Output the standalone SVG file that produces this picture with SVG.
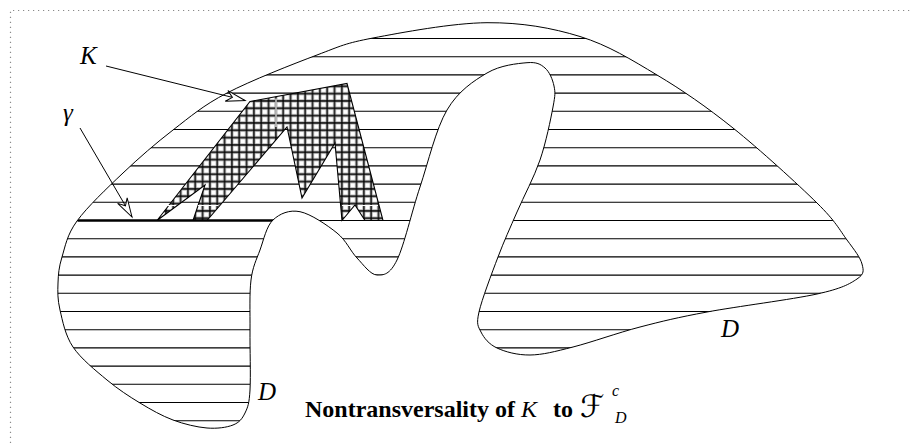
<svg xmlns="http://www.w3.org/2000/svg" width="910" height="443" viewBox="0 0 910 443">
<style>
.lbl{font-family:"Liberation Serif","Times New Roman",serif;font-style:italic;font-size:25px;fill:#000}
.cap{font-family:"Liberation Serif","Times New Roman",serif;font-weight:bold;font-size:24px;fill:#000}
.capm{font-family:"Liberation Serif","Times New Roman",serif;font-style:italic;font-size:24px;fill:#000}
.sm{font-family:"Liberation Serif","Times New Roman",serif;font-style:italic;font-size:16px;fill:#000}
.thin{fill:none;stroke:#000;stroke-width:1}
.hatch{fill:none;stroke:#000;stroke-width:1.1}
.seam{fill:none;stroke:#fff;stroke-width:1.2}
</style>
<defs>
<path id="outline" d="M487,22.7 C521.5,22.45 551.67,27.78 580,36.5 C608.33,45.22 631.5,59.75 657,75 C682.5,90.25 706.33,106.67 733,128 C759.67,149.33 798,184.33 817,203 C836,221.67 839.5,229.83 847,240 C854.5,250.17 860.33,257.5 862,264 C863.67,270.5 864.5,274 857,279 C849.5,284 842,288.5 817,294 C792,299.5 736.5,306.5 707,312 C677.5,317.5 662.33,321.17 640,327 C617.67,332.83 591.33,342.33 573,347 C554.67,351.67 542.67,354.83 530,355 C517.33,355.17 505.17,351.83 497,348 C488.83,344.17 484,338 481,332 C478,326 476.17,324.5 479,312 C481.83,299.5 491.67,273.67 498,257 C504.33,240.33 510,228.17 517,212 C524,195.83 534,177.5 540,160 C546,142.5 550.67,119.33 553,107 C555.33,94.67 555.33,92.5 554,86 C552.67,79.5 549.5,71.88 545,68 C540.5,64.12 536.67,61.87 527,62.7 C517.33,63.53 500.33,65.12 487,73 C473.67,80.88 458.17,91 447,110 C435.83,129 428.33,162 420,187 C411.67,212 404.17,245.33 397,260 C389.83,274.67 383.67,275.33 377,275 C370.33,274.67 363.67,265 357,258 C350.33,251 346.5,240.72 337,233 C327.5,225.28 310.67,213.87 300,211.7 C289.33,209.53 279.67,213.62 273,220 C266.33,226.38 263.67,240 260,250 C256.33,260 252.67,266.67 251,280 C249.33,293.33 250.17,311.67 250,330 C249.83,348.33 250.83,376.17 250,390 C249.17,403.83 247.83,407.17 245,413 C242.17,418.83 239.33,422.5 233,425 C226.67,427.5 217,428.83 207,428 C197,427.17 184.17,424.17 173,420 C161.83,415.83 151,409.67 140,403 C129,396.33 118.17,389.33 107,380 C95.83,370.67 80.83,358.67 73,347 C65.17,335.33 62.5,320.67 60,310 C57.5,299.33 57.67,291.83 58,283 C58.33,274.17 58.83,267.33 62,257 C65.17,246.67 66.83,235 77,221 C87.17,207 107,188.17 123,173 C139,157.83 155.67,143.33 173,130 C190.33,116.67 203,105.5 227,93 C251,80.5 292.67,64.17 317,55 C341.33,45.83 344.67,43.38 373,38 C401.33,32.62 452.5,22.95 487,22.7 Z"/>
<clipPath id="clipD"><use href="#outline"/></clipPath>
<pattern id="grid" patternUnits="userSpaceOnUse" x="1" y="2" width="7.33" height="7.33">
<rect width="7.33" height="7.33" fill="#fff"/>
<path d="M3.665,0V7.33M0,3.665H7.33" stroke="#b0b0b0" stroke-width="3"/>
<path d="M3.665,0V7.33M0,3.665H7.33" stroke="#000" stroke-width="1.3"/>
</pattern>
<marker id="ah" viewBox="-20 -8 22 16" refX="0" refY="0" markerWidth="22" markerHeight="16" markerUnits="userSpaceOnUse" orient="auto" overflow="visible">
<path d="M0,0 L-19,-5.5 L-13,0 L-19,5.5 Z" fill="#fff" stroke="#000" stroke-width="1"/>
</marker>
</defs>

<path d="M10.5,443 V10.5 H910" fill="none" stroke="#8a8a8a" stroke-width="1.2" stroke-dasharray="1.2 3.8"/>

<g id="region-D">
<g clip-path="url(#clipD)">
<path class="hatch" d="M40,38.5H880M40,56.7H880M40,74.9H880M40,93.1H880M40,111.3H880M40,129.5H880M40,147.7H880M40,165.9H880M40,184.1H880M40,202.3H880M40,220.5H880M40,238.7H880M40,256.9H880M40,275.1H880M40,293.3H880M40,311.5H880M40,329.7H880M40,347.9H880M40,366.1H880M40,384.3H880M40,402.5H880M40,420.7H880"/>
</g>
<use href="#outline" class="thin"/>
</g>

<g id="set-K">
<path d="M250,101.5 L347,83.5 L383,220.5 L365,220.5 L355,205 L342,220.5 L335,143 L302,198 L287,127 L207,220.5 L193,220.5 L205,185 L157,220.5 Z" fill="url(#grid)" stroke="#000" stroke-width="1.1" stroke-linejoin="miter"/>
<path class="seam" d="M276,98.5V127M164,205.5H176M198,205.5H218M342,205.5H352M358,205.5H378"/>
</g>

<g id="curve-gamma">
<path d="M77.5,220.5H274" clip-path="url(#clipD)" stroke="#000" stroke-width="2.6" fill="none"/>
</g>

<g id="connectors">
<path class="thin" d="M106,66 L245,100.5" marker-end="url(#ah)"/>
<path class="thin" d="M80,128 L132,217" marker-end="url(#ah)"/>
</g>

<g id="label-K"><text class="lbl" x="80" y="64">K</text></g>
<g id="label-gamma"><text class="lbl" x="63" y="121">γ</text></g>
<g id="label-D1"><text class="lbl" x="258" y="400">D</text></g>
<g id="label-D2"><text class="lbl" x="721" y="337">D</text></g>

<g id="caption">
<text class="cap" x="305" y="417">Nontransversality of</text>
<text class="capm" x="521" y="417">K</text>
<text class="cap" x="553" y="417">to</text>
<text x="580" y="417" style="font-family:'DejaVu Serif','DejaVu Sans',serif;font-size:31px">ℱ</text>
<text class="sm" x="612" y="396">c</text>
<text class="sm" x="615" y="423">D</text>
</g>
</svg>
